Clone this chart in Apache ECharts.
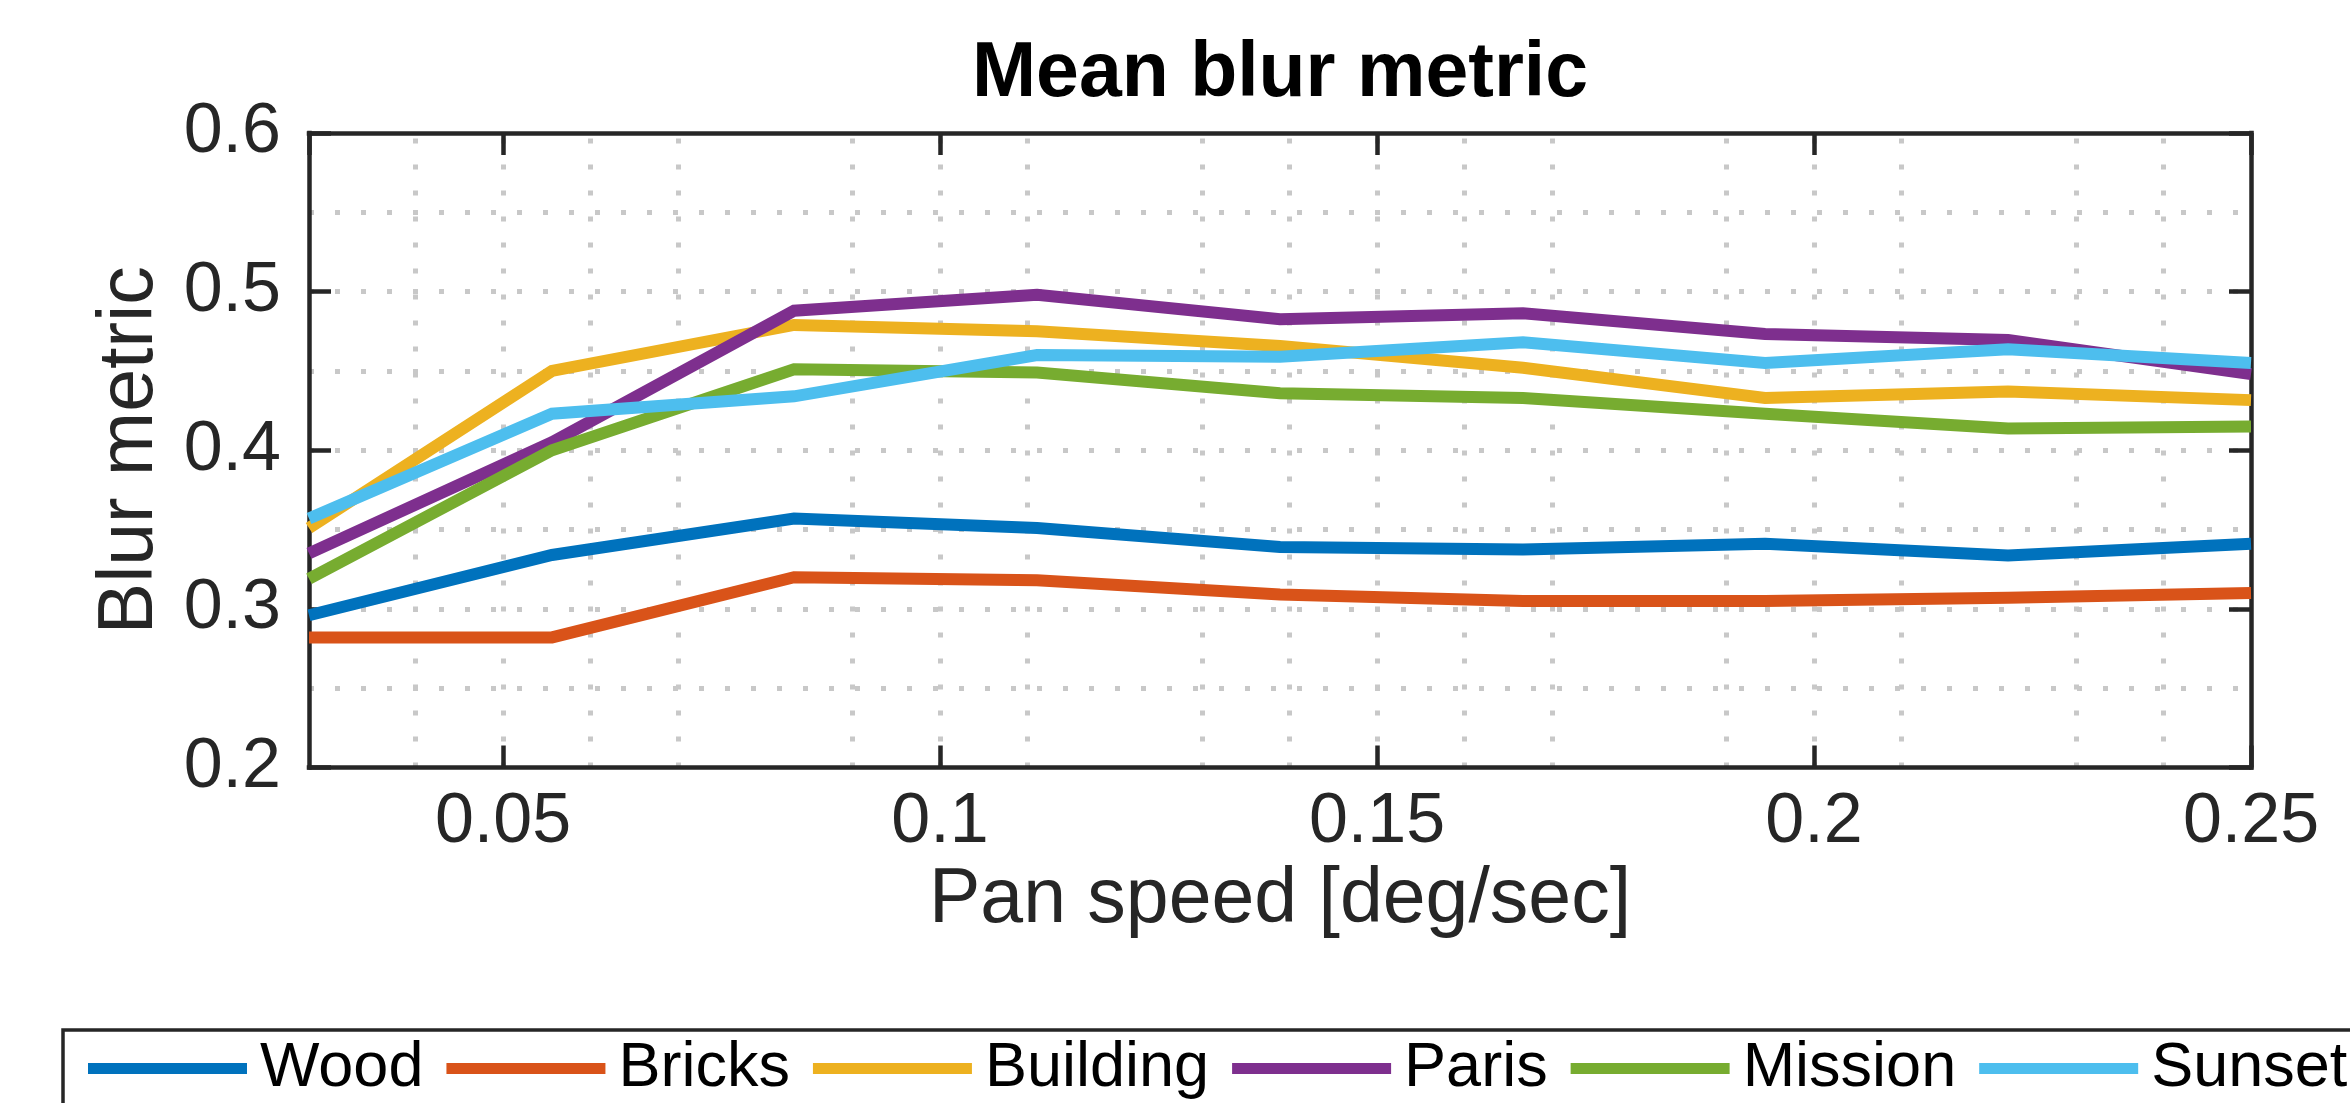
<!DOCTYPE html>
<html>
<head>
<meta charset="utf-8">
<script src="https://cdn.jsdelivr.net/npm/echarts@6/dist/echarts.min.js"></script>
<style>
  html, body { margin: 0; padding: 0; background: #ffffff; }
  #chart { width: 2350px; height: 1103px; }
</style>
</head>
<body>
<div id="chart"></div>
<script>
// Pan speeds (deg/sec) at which the blur metric was measured
const panSpeed = [0.0278, 0.0556, 0.0833, 0.1111, 0.1389, 0.1667, 0.1944, 0.2222, 0.25];

// Mean blur metric per scene
const wood     = [0.296, 0.334, 0.357, 0.351, 0.339, 0.3375, 0.341, 0.3337, 0.341];
const bricks   = [0.282, 0.282, 0.320, 0.318, 0.309, 0.305, 0.305, 0.307, 0.310];
const building = [0.351, 0.450, 0.479, 0.475, 0.4657, 0.452, 0.433, 0.437, 0.4316];
const paris    = [0.335, 0.405, 0.488, 0.498, 0.4826, 0.4863, 0.4733, 0.4695, 0.448];
const mission  = [0.319, 0.400, 0.451, 0.449, 0.436, 0.433, 0.423, 0.4137, 0.415];
const sunset   = [0.357, 0.423, 0.434, 0.460, 0.459, 0.468, 0.455, 0.4636, 0.455];

const sceneNames  = ['Wood', 'Bricks', 'Building', 'Paris', 'Mission', 'Sunset'];
const sceneValues = [wood, bricks, building, paris, mission, sunset];
const sceneColors = ['#0072BD', '#D95319', '#EDB120', '#7E2F8E', '#77AC30', '#4DBEEE'];

// Axis ranges and dotted grid positions
const yMin = 0.2, yMax = 0.6, yStep = 0.1;
const xGridValues = [0.0375, 0.05, 0.0625, 0.075, 0.0875, 0.1, 0.1125, 0.125, 0.1375,
                     0.15, 0.1625, 0.175, 0.1875, 0.2, 0.2125, 0.225, 0.2375];
const yGridValues = [0.25, 0.3, 0.35, 0.4, 0.45, 0.5, 0.55];

const FONT = '"Liberation Sans", Arial, Helvetica, sans-serif';
const INK = '#262626';
const BORDER_W = 4.5;
const LINE_W = 12;

const chart = echarts.init(document.getElementById('chart'), null, { renderer: 'canvas' });

function boxAxis(extra) {
  return Object.assign({
    type: 'value',
    z: 8,
    axisLine: { show: true, onZero: false, lineStyle: { color: INK, width: BORDER_W, cap: 'square' } },
    axisTick: { show: true, inside: true, length: 22, lineStyle: { color: INK, width: BORDER_W } },
    splitLine: { show: false },
    axisLabel: { show: false }
  }, extra);
}

const xRange = { min: panSpeed[0], max: panSpeed[panSpeed.length - 1], splitNumber: 5 };
const yRange = { min: yMin, max: yMax, interval: yStep };

const lineSeries = sceneNames.map((name, i) => ({
  name: name,
  type: 'line',
  data: panSpeed.map((x, j) => [x, sceneValues[i][j]]),
  symbol: 'none',
  z: 10,
  clip: false,
  color: sceneColors[i],
  lineStyle: { width: LINE_W, color: sceneColors[i], cap: 'butt', join: 'miter' },
  emphasis: { disabled: true }
}));

const gridSeries = {
  type: 'line',
  data: [],
  z: 1,
  silent: true,
  markLine: {
    z: 1,
    silent: true,
    symbol: 'none',
    animation: false,
    label: { show: false },
    emphasis: { disabled: true },
    lineStyle: { color: '#c8c8c8', width: 5, type: [5, 21] },
    data: xGridValues.map(v => ({ xAxis: v })).concat(yGridValues.map(v => ({ yAxis: v })))
  }
};

chart.setOption({
  animation: false,
  backgroundColor: '#ffffff',
  textStyle: { fontFamily: FONT },
  title: {
    text: 'Mean blur metric',
    left: 1280,
    top: 36,
    textAlign: 'center',
    padding: 0,
    textStyle: { fontFamily: FONT, fontSize: 77, fontWeight: 'bold', color: '#000000' }
  },
  grid: { left: 309, top: 133, right: 99, bottom: 335.5, containLabel: false },
  xAxis: [
    boxAxis(Object.assign({
      position: 'bottom',
      name: 'Pan speed [deg/sec]',
      nameLocation: 'middle',
      nameGap: 94,
      nameTextStyle: { fontFamily: FONT, fontSize: 77, color: INK },
      axisLabel: { show: true, showMinLabel: false, showMaxLabel: true, margin: 20,
                   fontFamily: FONT, fontSize: 70, color: INK }
    }, xRange)),
    boxAxis(Object.assign({ position: 'top' }, xRange))
  ],
  yAxis: [
    boxAxis(Object.assign({
      position: 'left',
      name: 'Blur metric',
      nameLocation: 'middle',
      nameRotate: 90,
      nameGap: 140,
      nameTextStyle: { fontFamily: FONT, fontSize: 77, color: INK },
      axisLabel: { show: true, margin: 28, fontFamily: FONT, fontSize: 70, color: INK,
                   formatter: v => v.toFixed(1) }
    }, yRange)),
    boxAxis(Object.assign({ position: 'right' }, yRange))
  ],
  legend: {
    data: sceneNames,
    orient: 'horizontal',
    left: 63,
    top: 1030,
    width: 2600,
    padding: [7, 20, 20, 25],
    itemGap: 23,
    itemWidth: 159,
    itemHeight: 11,
    borderColor: INK,
    borderWidth: 3.5,
    backgroundColor: '#ffffff',
    selectedMode: false,
    icon: 'rect',
    textStyle: { fontFamily: FONT, fontSize: 63, color: '#000000', padding: [0, 0, 0, 8] }
  },
  series: [gridSeries].concat(lineSeries)
});
</script>
</body>
</html>
